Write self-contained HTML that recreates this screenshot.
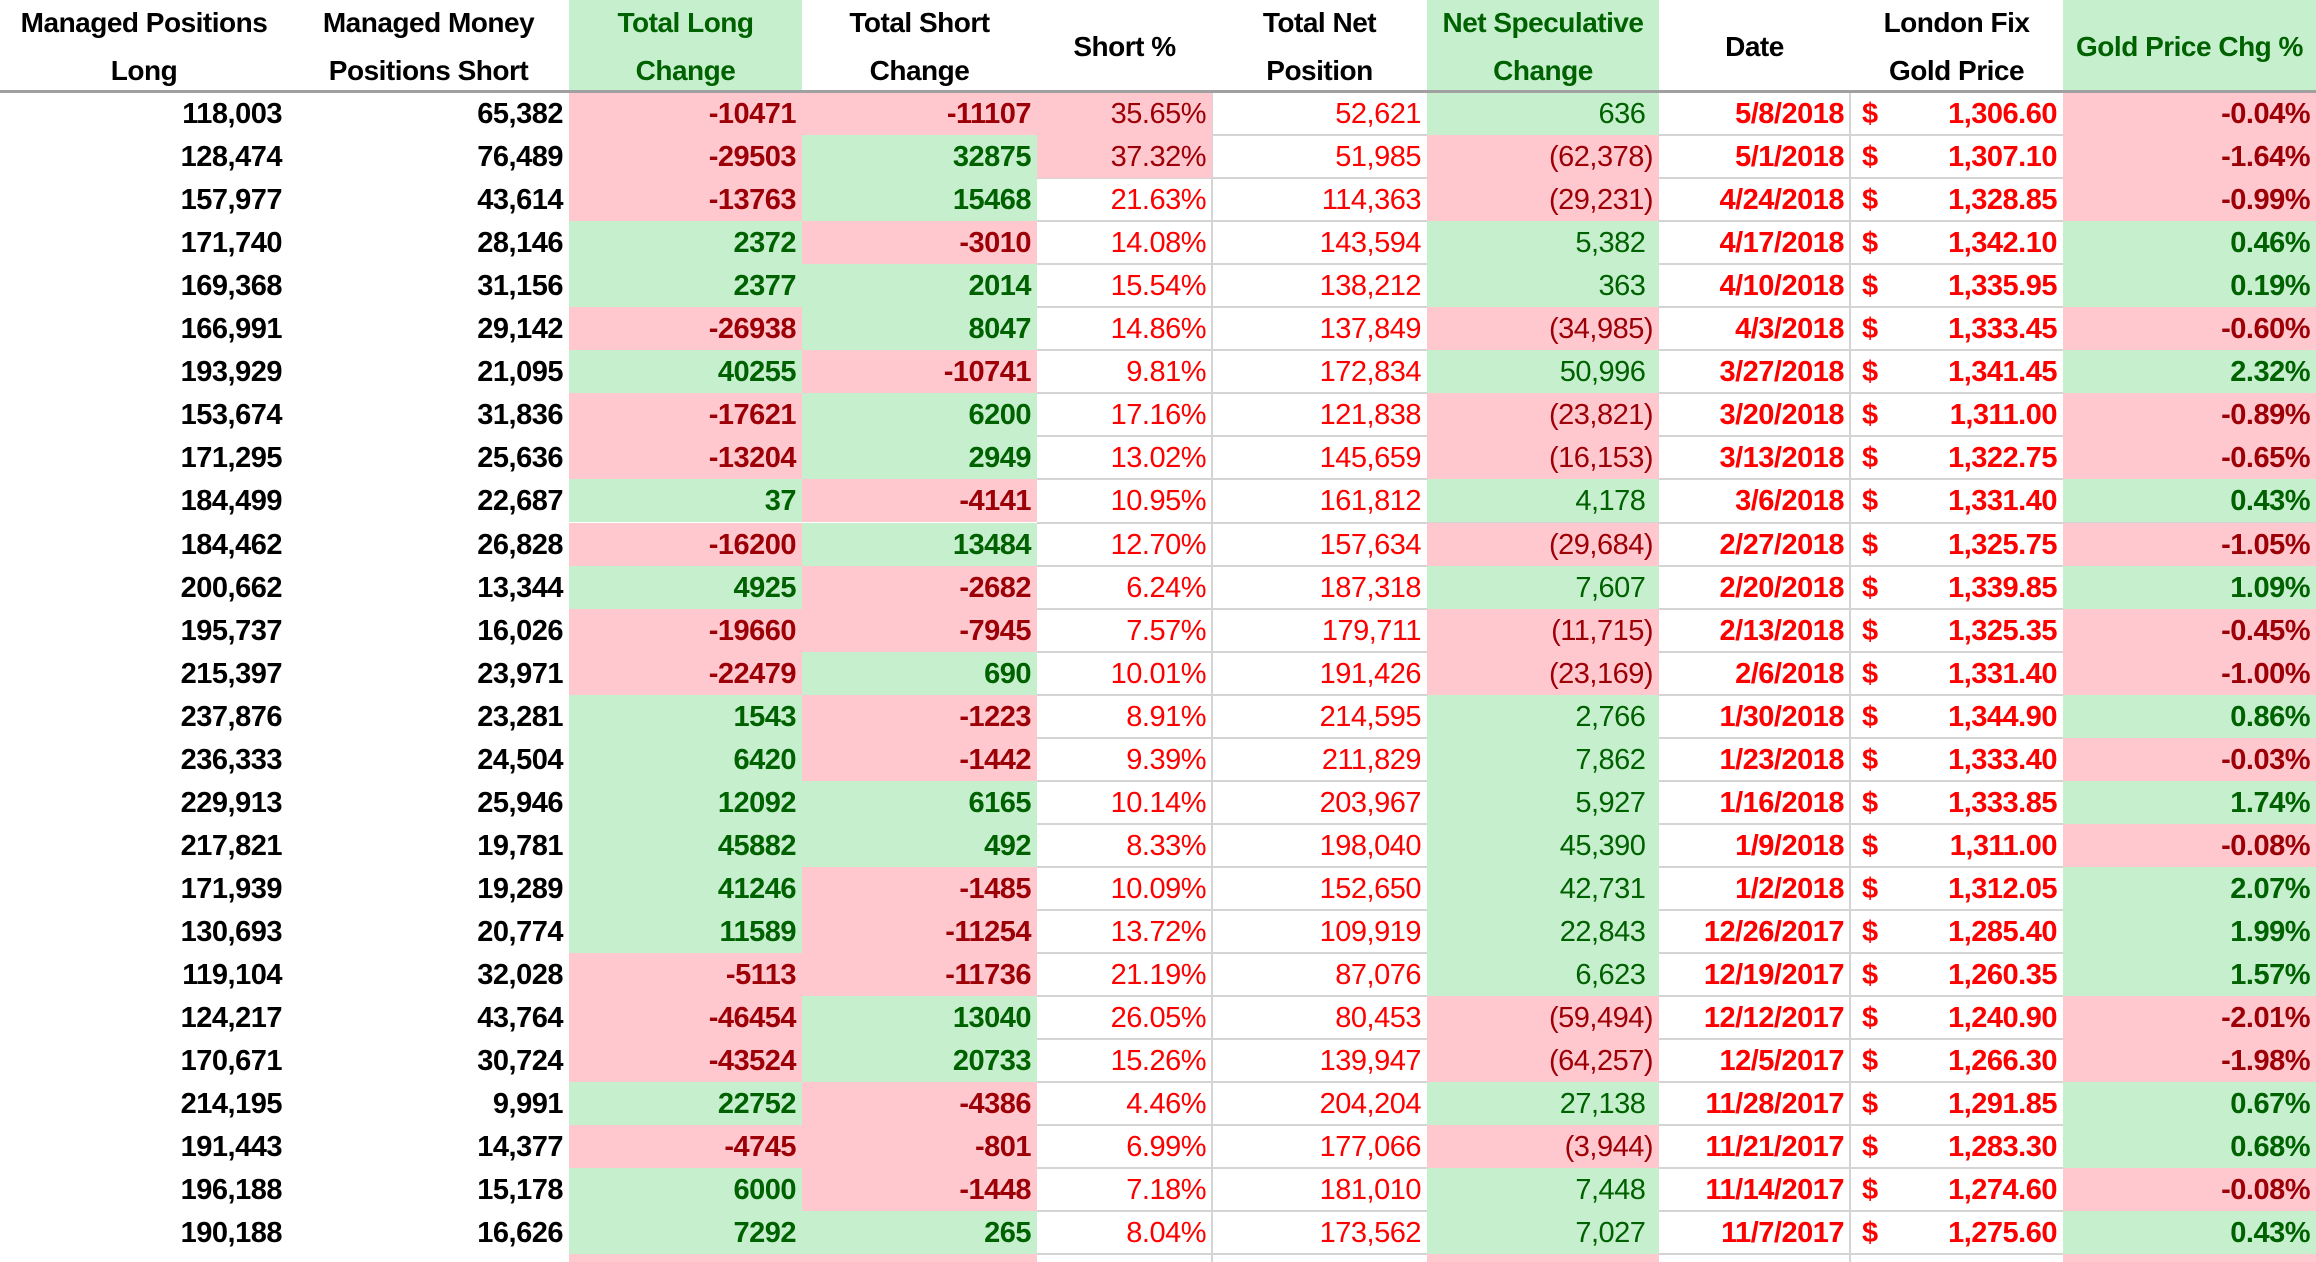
<!DOCTYPE html>
<html style="overflow:hidden;width:2316px;height:1262px;"><head><meta charset="utf-8"><style>
html,body{margin:0;width:2316px;height:1262px;overflow:hidden;background:#fff;font-family:"Liberation Sans",sans-serif;}
#t{position:absolute;left:0;top:0;width:2316px;height:1262px;overflow:hidden;}
.c{position:absolute;box-sizing:border-box;font-size:29px;line-height:45px;white-space:nowrap;text-align:right;padding-right:6px;letter-spacing:-0.5px;}
.h{position:absolute;box-sizing:border-box;font-size:28px;font-weight:bold;text-align:center;color:#000;letter-spacing:-0.5px;}
.h span{position:absolute;left:0;right:0;}
.gl{position:absolute;background:#d4d4d4;}
</style></head><body>
<div id="t"></div>
<script>
const colL=[0,288,569,802,1037,1212,1427,1659,1850,2063,2316];
const headers=[["Managed Positions","Long"],["Managed Money","Positions Short"],["Total Long","Change"],["Total Short","Change"],["Short %"],["Total Net","Position"],["Net Speculative","Change"],["Date"],["London Fix","Gold Price"],["Gold Price Chg %"]];
const headerGreen=[false,false,true,false,false,false,true,false,false,true];
const longPos=[118003,128474,157977,171740,169368,166991,193929,153674,171295,184499,184462,200662,195737,215397,237876,236333,229913,217821,171939,130693,119104,124217,170671,214195,191443,196188,190188];
const shortPos=[65382,76489,43614,28146,31156,29142,21095,31836,25636,22687,26828,13344,16026,23971,23281,24504,25946,19781,19289,20774,32028,43764,30724,9991,14377,15178,16626];
const longChg=[-10471,-29503,-13763,2372,2377,-26938,40255,-17621,-13204,37,-16200,4925,-19660,-22479,1543,6420,12092,45882,41246,11589,-5113,-46454,-43524,22752,-4745,6000,7292];
const shortChg=[-11107,32875,15468,-3010,2014,8047,-10741,6200,2949,-4141,13484,-2682,-7945,690,-1223,-1442,6165,492,-1485,-11254,-11736,13040,20733,-4386,-801,-1448,265];
const shortPct=[35.65,37.32,21.63,14.08,15.54,14.86,9.81,17.16,13.02,10.95,12.70,6.24,7.57,10.01,8.91,9.39,10.14,8.33,10.09,13.72,21.19,26.05,15.26,4.46,6.99,7.18,8.04];
const netPos=[52621,51985,114363,143594,138212,137849,172834,121838,145659,161812,157634,187318,179711,191426,214595,211829,203967,198040,152650,109919,87076,80453,139947,204204,177066,181010,173562];
const netChg=[636,-62378,-29231,5382,363,-34985,50996,-23821,-16153,4178,-29684,7607,-11715,-23169,2766,7862,5927,45390,42731,22843,6623,-59494,-64257,27138,-3944,7448,7027];
const dates=["5/8/2018","5/1/2018","4/24/2018","4/17/2018","4/10/2018","4/3/2018","3/27/2018","3/20/2018","3/13/2018","3/6/2018","2/27/2018","2/20/2018","2/13/2018","2/6/2018","1/30/2018","1/23/2018","1/16/2018","1/9/2018","1/2/2018","12/26/2017","12/19/2017","12/12/2017","12/5/2017","11/28/2017","11/21/2017","11/14/2017","11/7/2017"];
const price=[1306.60,1307.10,1328.85,1342.10,1335.95,1333.45,1341.45,1311.00,1322.75,1331.40,1325.75,1339.85,1325.35,1331.40,1344.90,1333.40,1333.85,1311.00,1312.05,1285.40,1260.35,1240.90,1266.30,1291.85,1283.30,1274.60,1275.60];
const priceChg=[-0.04,-1.64,-0.99,0.46,0.19,-0.60,2.32,-0.89,-0.65,0.43,-1.05,1.09,-0.45,-1.00,0.86,-0.03,1.74,-0.08,2.07,1.99,1.57,-2.01,-1.98,0.67,0.68,-0.08,0.43];
const PINK="#ffc7ce",GREEN="#c6efce",DR="#9c0006",DG="#006100",RED="#ff0000";
const T=document.getElementById('t');
const top0=92,rh=43.05;
const fmt=n=>Math.abs(n).toLocaleString('en-US');
function cell(ci,ri,text,opt){
  const d=document.createElement('div');
  d.className='c';
  
  
  d.style.left=colL[ci]+'px';d.style.width=(colL[ci+1]-colL[ci])+'px';
  d.style.top=(top0+ri*rh)+'px';d.style.height=rh+'px';
  if(opt.bg)d.style.background=opt.bg;
  d.style.color=opt.color||'#000';
  d.style.fontWeight=opt.bold?'bold':'normal';
  d.textContent=text;
  T.appendChild(d);return d;
}
const nRows=longPos.length;
for(let r=0;r<nRows;r++){
  const g=document.createElement('div');g.className='gl';
  
  
  g.style.left=colL[4]+'px';g.style.width=(colL[10]-colL[4])+'px';
  g.style.top=Math.round(top0+(r+1)*rh-1)+'px';g.style.height='2px';
  T.appendChild(g);
}
[5,8].forEach(ci=>{
  const g=document.createElement('div');g.className='gl';
  
  
  g.style.left=(colL[ci]-1)+'px';g.style.width='2px';g.style.top=top0+'px';g.style.height=(1262-top0)+'px';
  T.appendChild(g);
});
for(let r=0;r<nRows;r++){
  cell(0,r,fmt(longPos[r]),{bold:true});
  cell(1,r,fmt(shortPos[r]),{bold:true});
  cell(2,r,String(longChg[r]),{bold:true,bg:longChg[r]<0?PINK:GREEN,color:longChg[r]<0?DR:DG});
  cell(3,r,String(shortChg[r]),{bold:true,bg:shortChg[r]<0?PINK:GREEN,color:shortChg[r]<0?DR:DG});
  const hi=shortPct[r]>30;
  cell(4,r,shortPct[r].toFixed(2)+'%',{bg:hi?PINK:null,color:hi?DR:RED});
  cell(5,r,fmt(netPos[r]),{color:RED});
  cell(6,r,netChg[r]<0?'('+fmt(netChg[r])+')':fmt(netChg[r])+'\u00a0',{bg:netChg[r]<0?PINK:GREEN,color:netChg[r]<0?DR:DG});
  cell(7,r,dates[r],{bold:true,color:RED});
  const p=cell(8,r,price[r].toLocaleString('en-US',{minimumFractionDigits:2,maximumFractionDigits:2}),{bold:true,color:RED});
  const s=document.createElement('span');
  
  
  s.style.position='absolute';s.style.left='12px';s.textContent='$';p.appendChild(s);
  cell(9,r,priceChg[r].toFixed(2)+'%',{bold:true,bg:priceChg[r]<0?PINK:GREEN,color:priceChg[r]<0?DR:DG});
}
const pTop=Math.round(top0+nRows*rh);
[[2,PINK],[3,PINK],[6,PINK],[9,PINK]].forEach(([ci,bg])=>{
  const d=document.createElement('div');
  
  
  d.style.cssText='position:absolute;left:'+colL[ci]+'px;width:'+(colL[ci+1]-colL[ci])+'px;top:'+pTop+'px;height:'+(1262-pTop)+'px;background:'+bg;
  T.appendChild(d);
});
headers.forEach((h,i)=>{
  const d=document.createElement('div');d.className='h';
  
  
  d.style.left=colL[i]+'px';d.style.width=(colL[i+1]-colL[i])+'px';d.style.top='0px';d.style.height='91px';
  if(headerGreen[i]){d.style.background=GREEN;d.style.color=DG;}
  if(h.length===2){
    const a=document.createElement('span');a.style.top='7px';a.textContent=h[0];d.appendChild(a);
    const b=document.createElement('span');b.style.top='55px';b.textContent=h[1];d.appendChild(b);
  }else{
    const a=document.createElement('span');a.style.top='31px';a.textContent=h[0];d.appendChild(a);
  }
  T.appendChild(d);
});
const hl=document.createElement('div');


hl.style.cssText='position:absolute;left:0;width:2316px;top:90px;height:3px;background:#a0a0a0';
T.appendChild(hl);
</script>
</body></html>
